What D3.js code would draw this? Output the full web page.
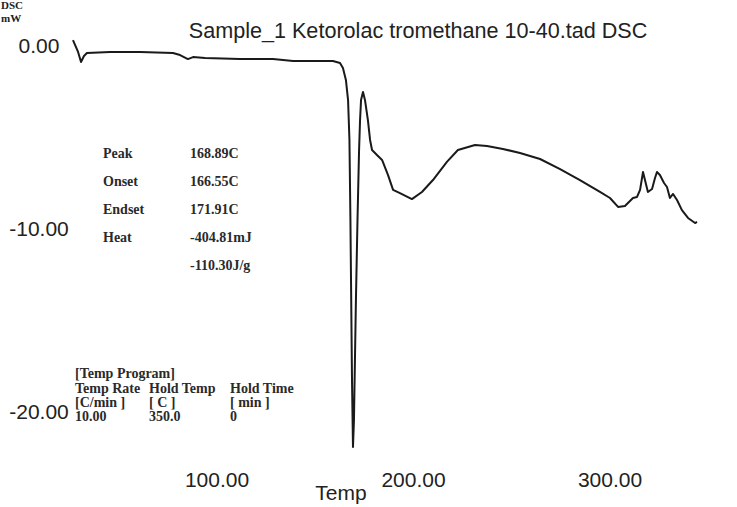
<!DOCTYPE html>
<html>
<head>
<meta charset="utf-8">
<script src="https://cdn.jsdelivr.net/npm/d3@7"></script>
<style>
  html, body { margin: 0; padding: 0; background: #fff; }
  svg { display: block; }
</style>
</head>
<body>
<svg id="chart" width="737" height="507"></svg>
<script>
// ---- data ----
const title = "Sample_1 Ketorolac tromethane 10-40.tad DSC";
const xTicks = [100, 200, 300];
const yTicks = [0, -10, -20];
const xLabel = "Temp";
const yLabelLines = ["DSC", "mW"];

// temperature (C) and heat flow (mW)
const temps = [26.7, 29.3, 30.8, 32.3, 33.8, 45.5, 60.8, 77.6, 81.2, 85.2, 87.8, 93.9, 111.7, 128.5, 138.7, 152.4, 159.0,
  162.6, 164.1, 165.6, 166.7, 167.4, 167.9, 168.7, 169.2, 169.7, 170.7, 171.5, 172.3, 172.8, 173.3, 174.3, 175.3,
  176.8, 177.9, 178.9, 181.4, 184.0, 187.0, 189.6, 193.1, 199.2, 204.3, 209.9, 217.0, 222.6, 231.3, 237.4, 245.5,
  254.2, 264.4, 274.6, 284.7, 294.9, 300.0, 304.1, 307.6, 311.7, 313.7, 315.3, 316.8, 317.8, 319.3, 321.4, 322.9,
  323.9, 325.4, 327.5, 329.0, 330.5, 332.1, 334.1, 336.6, 339.7, 343.3, 344.3];
const dsc = [0.27, -0.38, -0.93, -0.60, -0.44, -0.38, -0.38, -0.44, -0.55, -0.77, -0.66, -0.71, -0.77, -0.77, -0.87, -0.87, -0.87,
  -0.98, -1.26, -1.91, -3.01, -5.19, -9.56, -18.31, -21.97, -20.49, -13.93, -9.56, -5.74, -4.10, -3.01, -2.57, -3.00,
  -4.10, -5.19, -5.74, -6.01, -6.28, -7.10, -7.92, -8.09, -8.42, -8.03, -7.38, -6.39, -5.74, -5.46, -5.52, -5.68,
  -5.90, -6.23, -6.78, -7.38, -8.03, -8.36, -8.85, -8.80, -8.36, -8.31, -7.92, -6.94, -7.38, -8.03, -7.87, -7.27,
  -6.94, -7.10, -7.54, -7.76, -8.36, -8.14, -8.47, -9.02, -9.45, -9.73, -9.67];

// annotation texts
const peakLabels = ["Peak", "Onset", "Endset", "Heat", ""];
const peakValues = ["168.89C", "166.55C", "171.91C", "-404.81mJ", "-110.30J/g"];
const progTitle = "[Temp Program]";
const progHeaders = ["Temp Rate", "Hold Temp", "Hold Time"];
const progUnits = ["[C/min ]", "[ C ]", "[ min ]"];
const progValues = ["10.00", "350.0", "0"];

// ---- drawing ----
const svg = d3.select("#chart");
svg.append("rect").attr("width", 737).attr("height", 507).attr("fill", "#fff");

const x = d3.scaleLinear().domain([100, 300]).range([217, 610]);
const y = d3.scaleLinear().domain([0, -20]).range([45, 411]);

const sans = "'Liberation Sans', Arial, sans-serif";
const serif = "'Liberation Serif', 'Times New Roman', serif";
const ink = "#222";
const fmt = d => d3.format(".2f")(d).replace("\u2212", "-");

// title
svg.append("text")
  .attr("x", 418).attr("y", 38)
  .attr("text-anchor", "middle")
  .attr("font-family", sans).attr("font-size", 21.6)
  .attr("fill", ink)
  .text(title);

// y unit label
svg.selectAll("text.yunit").data(yLabelLines).join("text")
  .attr("class", "yunit")
  .attr("x", 1).attr("y", (d, i) => 9 + i * 13)
  .attr("font-family", serif).attr("font-size", 11).attr("font-weight", "bold")
  .attr("fill", ink)
  .text(d => d);

// y tick labels
svg.selectAll("text.ytick").data(yTicks).join("text")
  .attr("class", "ytick")
  .attr("x", 39).attr("y", d => y(d))
  .attr("dy", "0.36em")
  .attr("text-anchor", "middle")
  .attr("font-family", sans).attr("font-size", 21)
  .attr("fill", ink)
  .text(d => fmt(d));

// x tick labels
svg.selectAll("text.xtick").data(xTicks).join("text")
  .attr("class", "xtick")
  .attr("x", d => x(d)).attr("y", 487)
  .attr("text-anchor", "middle")
  .attr("font-family", sans).attr("font-size", 21)
  .attr("fill", ink)
  .text(d => fmt(d));

// x axis title
svg.append("text")
  .attr("x", 341).attr("y", 500)
  .attr("text-anchor", "middle")
  .attr("font-family", sans).attr("font-size", 21)
  .attr("fill", ink)
  .text(xLabel);

// curve
const pts = temps.map((t, i) => [t, dsc[i]]);
svg.append("path")
  .datum(pts)
  .attr("fill", "none")
  .attr("stroke", "#1a1a1a")
  .attr("stroke-width", 2)
  .attr("stroke-linejoin", "round")
  .attr("d", d3.line().x(d => x(d[0])).y(d => y(d[1])));

// peak annotation block
const ann = svg.append("g")
  .attr("font-family", serif).attr("font-size", 14).attr("font-weight", "bold").attr("fill", "#2a2a2a");
peakLabels.forEach((lab, i) => {
  ann.append("text").attr("x", 103).attr("y", 158 + i * 28).text(lab);
  ann.append("text").attr("x", 190).attr("y", 158 + i * 28).text(peakValues[i]);
});

// temp program block
const prog = svg.append("g")
  .attr("font-family", serif).attr("font-size", 14).attr("font-weight", "bold").attr("fill", "#2a2a2a");
prog.append("text").attr("x", 75).attr("y", 378).text(progTitle);
const colX = [75, 149, 230];
progHeaders.forEach((h, i) => prog.append("text").attr("x", colX[i]).attr("y", 393).text(h));
progUnits.forEach((h, i) => prog.append("text").attr("x", colX[i]).attr("y", 407).text(h));
progValues.forEach((h, i) => prog.append("text").attr("x", colX[i]).attr("y", 421).text(h));
</script>
</body>
</html>
